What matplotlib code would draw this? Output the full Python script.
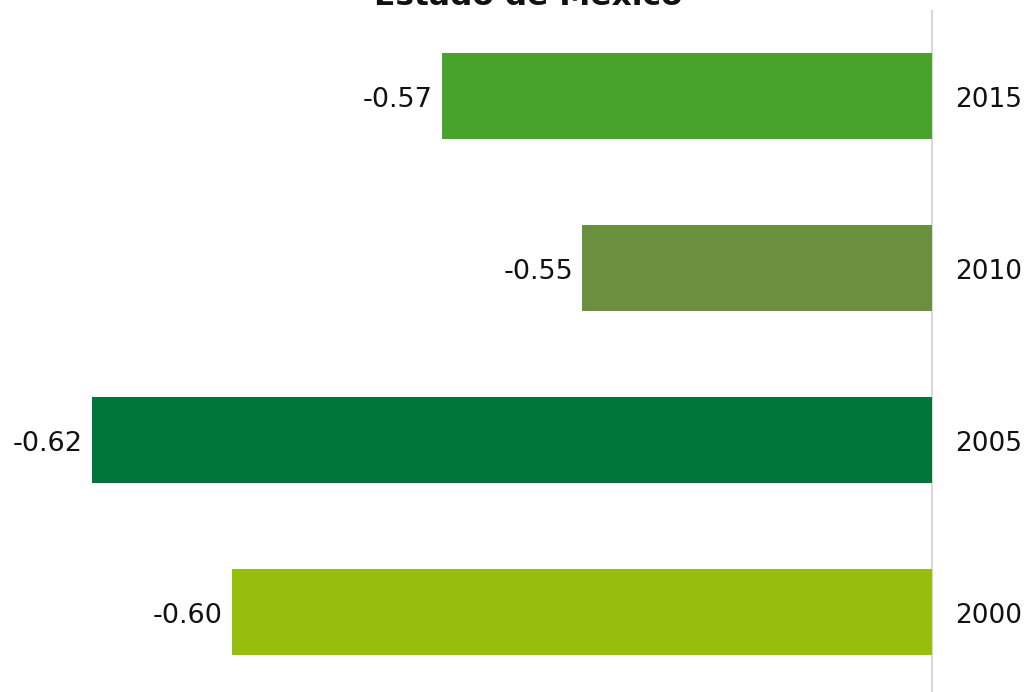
import matplotlib
matplotlib.use("Agg")
import matplotlib.pyplot as plt

# Données
annees = ["2000", "2005", "2010", "2015"]
valeurs = [-0.60, -0.62, -0.55, -0.57]
couleurs = ["#97be0d", "#00753a", "#6a8f3f", "#48a22b"]
titre = "Estado de México"
base = -0.50

fig = plt.figure(figsize=(10.29, 6.92), dpi=100)
ax = fig.add_axes([0, 0, 1, 1])

pos = list(range(len(annees)))
largeurs = [v - base for v in valeurs]
ax.barh(pos, largeurs, left=base, height=0.5, color=couleurs)

# Ligne de base verticale
ax.plot([base, base], [-0.48, 3.494], color="#d9d9d9", lw=1.5, zorder=0)

for p, v, a in zip(pos, valeurs, annees):
    ax.text(v - 0.0013, p - 0.004, f"{v:.2f}", ha="right", va="center_baseline", fontsize=19.5, color="#111111")
    ax.text(base + 0.0033, p - 0.004, a, ha="left", va="center_baseline", fontsize=19, color="#111111")

ax.set_xlim(base - 932 / 7000, base + 97 / 7000)
ax.set_ylim(-0.465, 3.558)
ax.axis("off")

fig.text(0.513, 1 - 5 / 692, titre, ha="center", va="baseline", fontsize=22.5, fontweight="bold", color="#111111")

fig.savefig("out.png", dpi=100)
plt.close(fig)
